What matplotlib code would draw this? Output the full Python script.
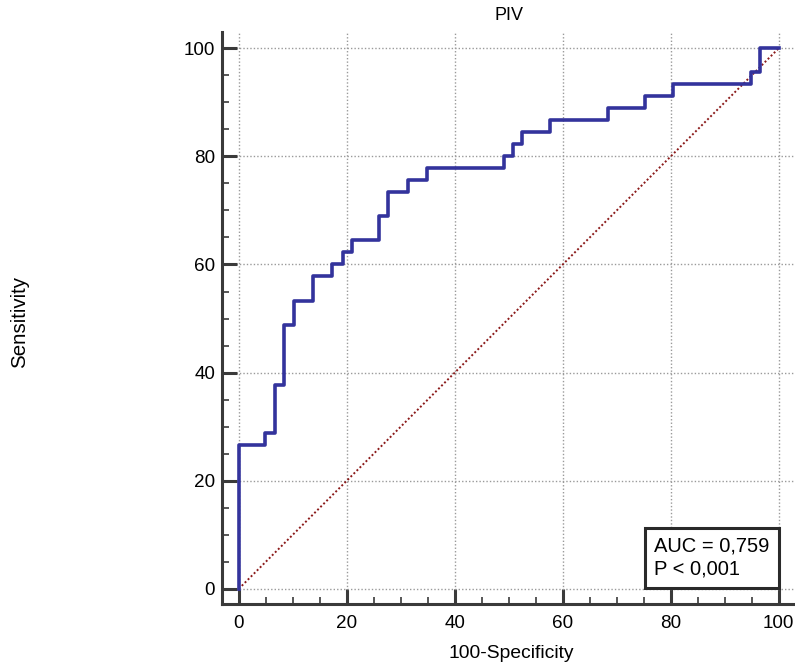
import matplotlib
matplotlib.use('Agg')
import matplotlib.pyplot as plt
from matplotlib.patches import Rectangle
from matplotlib.ticker import MultipleLocator

plt.rcParams['font.family'] = ['Liberation Sans', 'DejaVu Sans']

# ROC-Kurve: x-Position des Sprungs und neue Sensitivität
fpr = [0, 0, 4.9, 6.7, 8.4, 10.2, 13.8, 17.3, 19.3, 21.0, 25.9, 27.6, 31.3, 34.9,
       49.1, 50.7, 52.4, 57.6, 68.3, 75.2, 80.4, 94.8, 96.6, 100]
tpr = [0, 26.67, 28.89, 37.78, 48.89, 53.33, 57.78, 60.0, 62.22, 64.44, 68.89, 73.33,
       75.56, 77.78, 80.0, 82.22, 84.44, 86.67, 88.89, 91.11, 93.33, 95.56, 100, 100]
diag = [0, 100]
title = 'PIV'
auc_lines = ['AUC = 0,759', 'P < 0,001']

fig = plt.figure(figsize=(7.95, 6.69), dpi=100)
ax = fig.add_axes([222 / 795, 1 - 604 / 669, 1 - 222 / 795, 572 / 669])

ax.plot(diag, diag, color='#8b1a1a', lw=1.4, ls=(0, (1, 1.2)), zorder=2)
ax.step(fpr, tpr, where='post', color='#33339c', lw=2.6, zorder=3)

ax.set_xlim(-3.1, 103)
ax.set_ylim(-2.8, 103)
ax.xaxis.set_major_locator(MultipleLocator(20))
ax.yaxis.set_major_locator(MultipleLocator(20))
ax.xaxis.set_minor_locator(MultipleLocator(5))
ax.yaxis.set_minor_locator(MultipleLocator(5))
ax.grid(True, which='major', color='#9a9a9a', ls=(0, (1, 1.5)), lw=1.0)

for s in ['top', 'right']:
    ax.spines[s].set_visible(False)
for s in ['left', 'bottom']:
    ax.spines[s].set_color('#3a3a3a')
    ax.spines[s].set_linewidth(2.2)

ax.tick_params(which='major', direction='in', length=10.5, width=2.2, color='#3a3a3a',
               labelsize=13.6)
ax.tick_params(which='minor', direction='in', length=5, width=1.2, color='#3a3a3a')
ax.tick_params(axis='x', which='major', pad=8)
ax.tick_params(axis='y', which='major', pad=5)

# AUC-Kasten
ax.add_patch(Rectangle((75.2, 0.2), 24.8, 11.1, fc='white', ec='#2a2a2a', lw=2.2, zorder=5))
ax.text(76.9, 8.0, auc_lines[0], fontsize=14.5, va='center', ha='left', zorder=6)
ax.text(76.9, 3.7, auc_lines[1], fontsize=14.5, va='center', ha='left', zorder=6)

fig.text(509 / 795, 1 - 15 / 669, title, ha='center', va='center', fontsize=13)
fig.text(511 / 795, 1 - 654 / 669, '100-Specificity', ha='center', va='center', fontsize=13.9)
fig.text(20 / 795, 1 - 322 / 669, 'Sensitivity', ha='center', va='center',
         rotation=90, fontsize=14.8)

fig.savefig('out.png', dpi=100)
